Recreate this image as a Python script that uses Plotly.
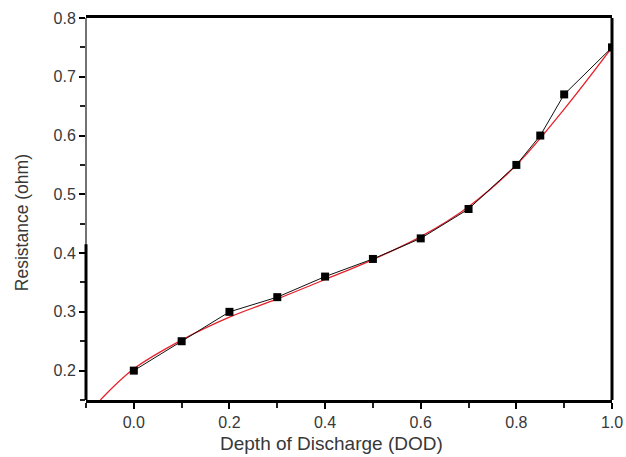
import plotly.graph_objects as go

# Measured resistance vs depth of discharge
dod = [0.0, 0.1, 0.2, 0.3, 0.4, 0.5, 0.6, 0.7, 0.8, 0.85, 0.9, 1.0]
resistance = [0.20, 0.25, 0.30, 0.325, 0.36, 0.39, 0.425, 0.475, 0.55, 0.60, 0.67, 0.75]

# Fitted trend curve
fit_dod = [-0.07, 0.0, 0.1, 0.2, 0.3, 0.4, 0.5, 0.6, 0.7, 0.8, 0.9, 1.0]
fit_res = [0.15, 0.203, 0.252, 0.291, 0.322, 0.355, 0.389, 0.428, 0.479, 0.55, 0.645, 0.75]

x_ticks = [0.0, 0.2, 0.4, 0.6, 0.8, 1.0]
y_ticks = [0.2, 0.3, 0.4, 0.5, 0.6, 0.7, 0.8]

fig = go.Figure()
fig.add_trace(go.Scatter(
    x=fit_dod, y=fit_res, mode="lines",
    line=dict(color="#e8202a", width=1.3, shape="spline", smoothing=1.0),
    showlegend=False, hoverinfo="skip"))
fig.add_trace(go.Scatter(
    x=dod, y=resistance, mode="lines+markers",
    line=dict(color="#111111", width=1),
    marker=dict(symbol="square", size=8, color="#000000"),
    showlegend=False))

font = "Liberation Sans, Arial, sans-serif"
text_color = "#383838"
fig.update_layout(
    width=626, height=457,
    margin=dict(l=86, r=14, t=18, b=57),
    paper_bgcolor="white", plot_bgcolor="white",
    font=dict(family=font, color=text_color, size=16),
    xaxis=dict(
        range=[-0.1, 1.0], tickvals=x_ticks, ticktext=[f"{v:.1f}" for v in x_ticks],
        automargin=False,
        showgrid=False, zeroline=False,
        showline=True, linecolor="black", linewidth=3, mirror=True,
        ticks="outside", ticklen=6, tickwidth=2, tickcolor="black",
        minor=dict(dtick=0.1, tick0=0, ticks="outside", ticklen=5, tickwidth=2, tickcolor="#222222"),
        tickfont=dict(size=16, color=text_color),
    ),
    yaxis=dict(
        range=[0.15, 0.8], tickvals=y_ticks, ticktext=[f"{v:.1f}" for v in y_ticks],
        automargin=False,
        showgrid=False, zeroline=False, showline=False,
        ticks="outside", ticklen=6, tickwidth=2, tickcolor="black",
        minor=dict(dtick=0.05, tick0=0, ticks="outside", ticklen=5, tickwidth=2, tickcolor="#222222"),
        tickfont=dict(size=16, color=text_color),
    ),
    annotations=[
        dict(text="Depth of Discharge (DOD)", xref="paper", yref="paper",
             x=0.466, y=0, yshift=-43, xanchor="center", yanchor="middle",
             showarrow=False, font=dict(size=19, color=text_color)),
        dict(text="Resistance (ohm)", xref="paper", yref="paper", textangle=-90,
             x=0, xshift=-64, y=0.463, xanchor="center", yanchor="middle",
             showarrow=False, font=dict(size=17.5, color=text_color)),
    ],
    shapes=[
        # right frame edge
        dict(type="line", xref="paper", yref="paper", x0=1, x1=1, y0=0, y1=1,
             line=dict(color="black", width=3)),
        # left frame edge
        dict(type="line", xref="paper", yref="paper", x0=0, x1=0, y0=0, y1=1,
             line=dict(color="#444444", width=1.5)),
        dict(type="line", xref="paper", yref="y", x0=0, x1=0, y0=0.15, y1=0.415,
             line=dict(color="black", width=3)),
    ],
)

fig.write_html("out.html")
